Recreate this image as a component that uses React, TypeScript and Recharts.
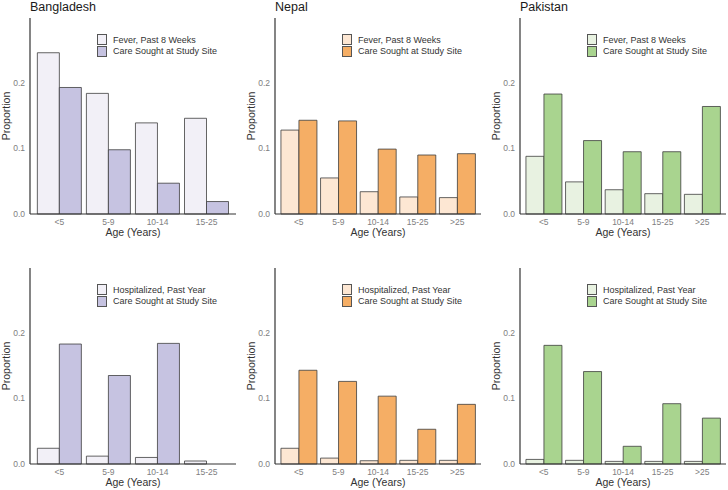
import { Bar, BarChart, Legend, XAxis, YAxis } from "recharts";

// age groups
const agesBD = ["<5", "5-9", "10-14", "15-25"];
const agesNP = ["<5", "5-9", "10-14", "15-25", ">25"];
const agesPK = ["<5", "5-9", "10-14", "15-25", ">25"];

// top row: fever in past 8 weeks vs care sought
const feverBD = [0.246, 0.184, 0.139, 0.146];
const feverCareBD = [0.193, 0.098, 0.047, 0.019];
const feverNP = [0.128, 0.055, 0.034, 0.026, 0.025];
const feverCareNP = [0.143, 0.142, 0.099, 0.09, 0.092];
const feverPK = [0.088, 0.049, 0.037, 0.031, 0.03];
const feverCarePK = [0.183, 0.112, 0.095, 0.095, 0.164];

// bottom row: hospitalized in past year vs care sought
const hospBD = [0.024, 0.012, 0.01, 0.0046];
const hospCareBD = [0.183, 0.135, 0.184, null];
const hospNP = [0.024, 0.009, 0.005, 0.0056, 0.0056];
const hospCareNP = [0.143, 0.126, 0.1035, 0.053, 0.091];
const hospPK = [0.007, 0.0056, 0.004, 0.004, 0.004];
const hospCarePK = [0.181, 0.141, 0.027, 0.092, 0.07];

const yTicks = [0, 0.1, 0.2];

const FONT = "'Liberation Sans', Arial, sans-serif";
const purple = ["#f2f0f7", "#c6c3e1"];
const orange = ["#fde7d3", "#f5ae65"];
const green = ["#e8f2e1", "#a9d48f"];

type PanelProps = {
  title?: string;
  ages: string[];
  a: (number | null)[];
  b: (number | null)[];
  aName: string;
  colors: string[];
  left: number;
  top: number;
};

function makeRows(ages: string[], a: (number | null)[], b: (number | null)[]) {
  return ages.map((age, i) => ({ age, a: a[i], b: b[i] }));
}

function LegendBox({ payload }: any) {
  // keep series order (recharts sorts by name by default)
  const items = [...(payload || [])].sort((x: any, y: any) =>
    String(x.dataKey).localeCompare(String(y.dataKey))
  );
  return (
    <div style={{ fontFamily: FONT, fontSize: 9, color: "#333" }}>
      {items.map((p: any) => (
        <div key={p.value} style={{ display: "flex", alignItems: "center", height: 11.5 }}>
          <span
            style={{
              width: 10,
              height: 11,
              background: p.color,
              border: "1px solid #555",
              boxSizing: "border-box",
              display: "inline-block",
            }}
          />
          <span style={{ marginLeft: 6 }}>{p.value}</span>
        </div>
      ))}
    </div>
  );
}

function Panel({ title, ages, a, b, aName, colors, left, top }: PanelProps) {
  const data = makeRows(ages, a, b);
  const unit = 206 / (ages.length + 0.2);
  const pad = unit * 0.1;
  return (
    <div style={{ position: "absolute", left, top, width: 236, height: 245 }}>
      {title && (
        <div
          style={{
            position: "absolute",
            left: 30,
            top: 0,
            fontFamily: FONT,
            fontSize: 12.5,
            lineHeight: "14px",
            color: "#1a1a1a",
          }}
        >
          {title}
        </div>
      )}
      <BarChart
        width={236}
        height={244}
        data={data}
        margin={{ top: 18, right: 0, bottom: 0, left: 0 }}
        barCategoryGap="5%"
        barGap={0}
      >
        <XAxis
          dataKey="age"
          height={30}
          padding={{ left: pad, right: pad }}
          tickLine={false}
          tickSize={3}
          tickMargin={2}
          axisLine={{ stroke: "#333", strokeWidth: 1.2 }}
          tick={{ fontSize: 8.5, fill: "#808080", fontFamily: FONT }}
          interval={0}
          label={{
            value: "Age (Years)",
            position: "insideBottom",
            offset: 8,
            style: { fontSize: 10.5, fill: "#333", fontFamily: FONT },
          }}
        />
        <YAxis
          width={30}
          domain={[0, 0.299]}
          ticks={yTicks}
          tickFormatter={(v: number) => v.toFixed(1)}
          tickLine={false}
          tickSize={3}
          tickMargin={2}
          axisLine={{ stroke: "#333", strokeWidth: 1.2 }}
          tick={{ fontSize: 8.5, fill: "#808080", fontFamily: FONT }}
          label={{
            value: "Proportion",
            angle: -90,
            position: "insideLeft",
            offset: 6,
            style: { fontSize: 10.5, fill: "#333", fontFamily: FONT, textAnchor: "middle" },
          }}
        />
        <Legend
          layout="vertical"
          align="center"
          verticalAlign="middle"
          content={<LegendBox />}
          wrapperStyle={{ left: 97, top: 34, width: "auto", height: "auto" }}
        />
        <Bar
          dataKey="a"
          name={aName}
          fill={colors[0]}
          stroke="#3d3d3d"
          strokeWidth={0.8}
          isAnimationActive={false}
        />
        <Bar
          dataKey="b"
          name="Care Sought at Study Site"
          fill={colors[1]}
          stroke="#3d3d3d"
          strokeWidth={0.8}
          isAnimationActive={false}
        />
      </BarChart>
    </div>
  );
}

export default function App() {
  const fever = "Fever, Past 8 Weeks";
  const hosp = "Hospitalized, Past Year";
  return (
    <div style={{ position: "absolute", left: 0, top: 0, width: 728, height: 490, background: "#fff" }}>
      <Panel title="Bangladesh" ages={agesBD} a={feverBD} b={feverCareBD} aName={fever} colors={purple} left={0} top={0} />
      <Panel title="Nepal" ages={agesNP} a={feverNP} b={feverCareNP} aName={fever} colors={orange} left={245} top={0} />
      <Panel title="Pakistan" ages={agesPK} a={feverPK} b={feverCarePK} aName={fever} colors={green} left={490} top={0} />
      <Panel ages={agesBD} a={hospBD} b={hospCareBD} aName={hosp} colors={purple} left={0} top={250} />
      <Panel ages={agesNP} a={hospNP} b={hospCareNP} aName={hosp} colors={orange} left={245} top={250} />
      <Panel ages={agesPK} a={hospPK} b={hospCarePK} aName={hosp} colors={green} left={490} top={250} />
    </div>
  );
}
